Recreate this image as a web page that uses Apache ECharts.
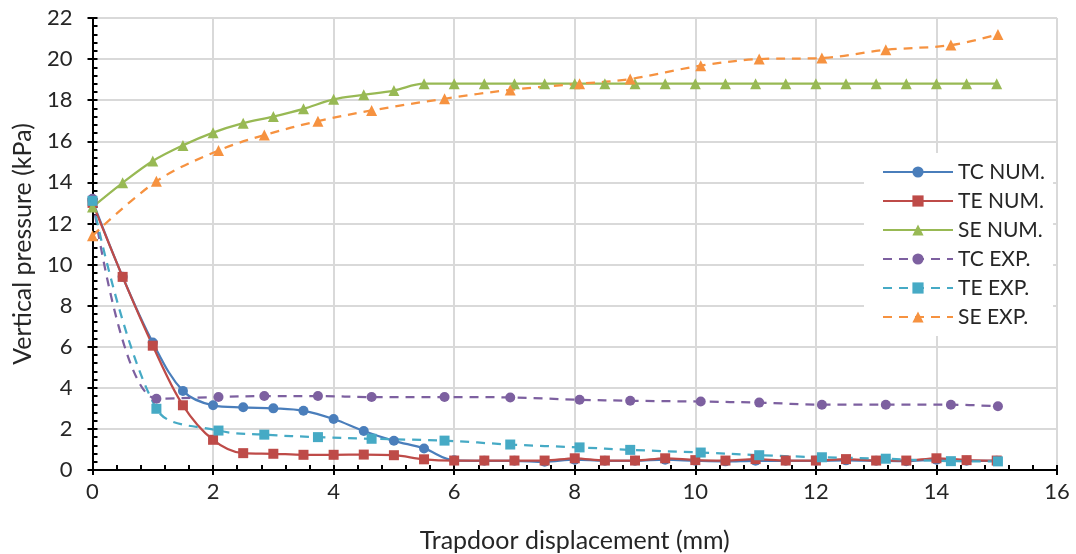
<!DOCTYPE html>
<html>
<head>
<meta charset="utf-8">
<script src="https://cdn.jsdelivr.net/npm/echarts@6/dist/echarts.min.js"></script>
<style>
  html, body { margin: 0; padding: 0; background: #fff; }
  #chart { width: 1076px; height: 554px; }
</style>
</head>
<body>
<div id="chart"></div>
<script>
// Numerical results: sampled every 0.5 mm of trapdoor displacement
const numX = [0, 0.5, 1, 1.5, 2, 2.5, 3, 3.5, 4, 4.5, 5, 5.5, 6, 6.5, 7, 7.5,
  8, 8.5, 9, 9.5, 10, 10.5, 11, 11.5, 12, 12.5, 13, 13.5, 14, 14.5, 15];
const tcNum = [13.1, 9.4, 6.2, 3.85, 3.15, 3.05, 3.0, 2.88, 2.48, 1.9, 1.42, 1.05, 0.47, 0.45, 0.45, 0.4,
  0.5, 0.45, 0.45, 0.5, 0.45, 0.42, 0.45, 0.45, 0.45, 0.47, 0.45, 0.43, 0.5, 0.45, 0.45];
const teNum = [13.0, 9.4, 6.05, 3.15, 1.47, 0.82, 0.79, 0.74, 0.74, 0.75, 0.72, 0.52, 0.46, 0.46, 0.46, 0.46,
  0.57, 0.46, 0.46, 0.57, 0.48, 0.46, 0.53, 0.46, 0.46, 0.53, 0.46, 0.46, 0.57, 0.48, 0.46];
const seNum = [12.8, 13.98, 15.04, 15.8, 16.42, 16.88, 17.2, 17.58, 18.04, 18.26, 18.47, 18.8, 18.8, 18.8, 18.8, 18.8,
  18.8, 18.8, 18.8, 18.8, 18.8, 18.8, 18.8, 18.8, 18.8, 18.8, 18.8, 18.8, 18.8, 18.8, 18.8];

// Experimental results: measured displacements
const expX = [0, 1.06, 2.09, 2.85, 3.74, 4.63, 5.84, 6.93, 8.08, 8.92, 10.09, 11.06, 12.1, 13.16, 14.24, 15.02];
const tcExp = [13.2, 3.47, 3.55, 3.6, 3.6, 3.55, 3.55, 3.53, 3.42, 3.37, 3.33, 3.28, 3.18, 3.18, 3.18, 3.1];
const teExp = [13.1, 2.98, 1.92, 1.72, 1.6, 1.52, 1.43, 1.24, 1.1, 0.98, 0.85, 0.72, 0.62, 0.55, 0.43, 0.42];
const seExp = [11.4, 14.05, 15.55, 16.3, 16.98, 17.5, 18.07, 18.5, 18.8, 19.03, 19.68, 20.0, 20.05, 20.45, 20.68, 21.2];

const xRange = { min: 0, max: 16, interval: 2 };
const yRange = { min: 0, max: 22, interval: 2 };

const FONT = 'Lato, "Open Sans", sans-serif';
const TEXT = '#262626';

const pair = (xs, ys) => xs.map((x, i) => [x, ys[i]]);

function lineSeries(name, xs, ys, color, symbol, size, dashed) {
  return {
    name: name,
    type: 'line',
    data: pair(xs, ys),
    smooth: 0.35,
    symbol: symbol,
    symbolSize: size,
    showAllSymbol: true,
    itemStyle: { color: color },
    lineStyle: { color: color, width: 2.25, type: dashed ? [9, 7] : 'solid' },
    emphasis: { disabled: true },
    animation: false
  };
}

const axisBase = (range) => ({
  type: 'value',
  min: range.min,
  max: range.max,
  interval: range.interval
});

const chart = echarts.init(document.getElementById('chart'), null, { renderer: 'canvas' });
chart.setOption({
  backgroundColor: '#fff',
  textStyle: { fontFamily: FONT },
  grid: { left: 92.5, right: 19, top: 18, bottom: 84, outerBoundsMode: 'none', containLabel: false },
  legend: {
    orient: 'vertical',
    left: 864,
    top: 153,
    padding: [8, 8, 8, 18],
    backgroundColor: '#fff',
    itemWidth: 70,
    itemHeight: 14,
    itemGap: 7,
    textStyle: { fontFamily: FONT, fontSize: 21, lineHeight: 22, color: TEXT },
    data: ['TC NUM.', 'TE NUM.', 'SE NUM.', 'TC EXP.', 'TE EXP.', 'SE EXP.']
  },
  xAxis: [
    Object.assign(axisBase(xRange), {
      position: 'bottom',
      name: 'Trapdoor displacement (mm)',
      nameLocation: 'middle',
      nameGap: 58,
      nameTextStyle: { fontFamily: FONT, fontSize: 25, color: TEXT },
      axisLine: { show: true, lineStyle: { color: '#000', width: 2 } },
      axisTick: { show: true, inside: true, length: 5, lineStyle: { color: '#000', width: 2 } },
      minorTick: { show: true, splitNumber: 5, length: 5, lineStyle: { color: '#000', width: 2 } },
      axisLabel: { fontFamily: FONT, fontSize: 22, color: TEXT, margin: 11 },
      splitLine: { show: true, lineStyle: { color: '#d9d9d9', width: 2 } }
    }),
    Object.assign(axisBase(xRange), {
      position: 'bottom',
      axisLine: { show: false },
      axisTick: { show: true, inside: false, length: 5, lineStyle: { color: '#000', width: 2 } },
      axisLabel: { show: false },
      splitLine: { show: false }
    })
  ],
  yAxis: [
    Object.assign(axisBase(yRange), {
      position: 'left',
      name: 'Vertical pressure (kPa)',
      nameLocation: 'middle',
      nameGap: 57,
      nameTextStyle: { fontFamily: FONT, fontSize: 25, color: TEXT },
      axisLine: { show: true, lineStyle: { color: '#000', width: 2 } },
      axisTick: { show: true, inside: true, length: 5, lineStyle: { color: '#000', width: 2 } },
      minorTick: { show: true, splitNumber: 5, length: 5, lineStyle: { color: '#000', width: 2 } },
      axisLabel: { fontFamily: FONT, fontSize: 22, color: TEXT, margin: 20 },
      splitLine: { show: true, lineStyle: { color: '#d9d9d9', width: 2 } }
    }),
    Object.assign(axisBase(yRange), {
      position: 'left',
      axisLine: { show: false },
      axisTick: { show: true, inside: false, length: 5, lineStyle: { color: '#000', width: 2 } },
      axisLabel: { show: false },
      splitLine: { show: false }
    })
  ],
  series: [
    lineSeries('TC NUM.', numX, tcNum, '#4a7ebb', 'circle', 10, false),
    lineSeries('TE NUM.', numX, teNum, '#be4b48', 'rect', 10, false),
    lineSeries('SE NUM.', numX, seNum, '#98b954', 'triangle', 11, false),
    lineSeries('TC EXP.', expX, tcExp, '#7d60a0', 'circle', 10, true),
    lineSeries('TE EXP.', expX, teExp, '#46aac5', 'rect', 10, true),
    lineSeries('SE EXP.', expX, seExp, '#f69240', 'triangle', 11, true)
  ]
});
</script>
</body>
</html>
